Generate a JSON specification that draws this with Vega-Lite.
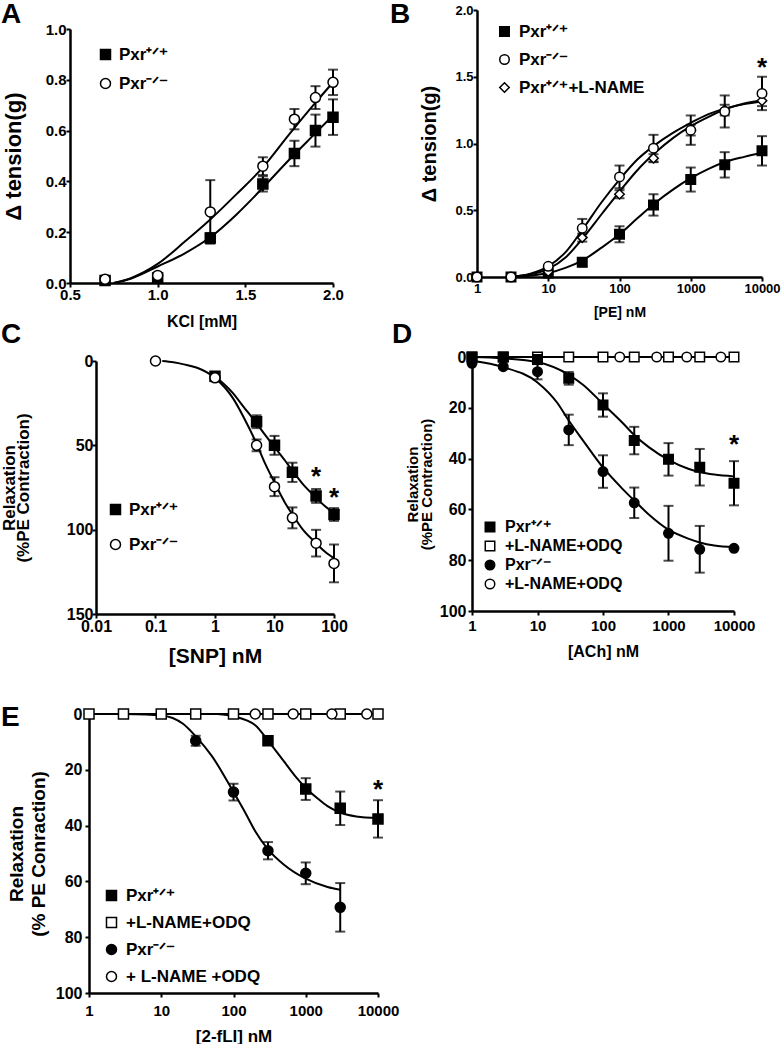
{
"$schema":"https://vega.github.io/schema/vega-lite/v6.json",
"padding":0,
"spacing":-600,
"bounds":"full",
"resolve":{"scale":{"fill":"independent","shape":"independent"},"legend":{"fill":"independent","shape":"independent"}},
"config":{"font":"Liberation Sans","view":{"stroke":null},
"axis":{"domainColor":"black","domainWidth":2.5,"tickColor":"black","tickWidth":2,"tickSize":4,"labelColor":"black","labelFontWeight":"bold","titleColor":"black","titleFontWeight":"bold","grid":false,"labelFlush":false,"labelOverlap":false},
"legend":{"labelFontWeight":"bold","labelColor":"black","padding":0,"symbolOpacity":1},
"title":{"color":"black"}},
"vconcat":[
{"spacing":-600,"resolve":{"scale":{"fill":"independent","shape":"independent"},"legend":{"fill":"independent","shape":"independent"}},"hconcat":[
{"width":70,"height":340,"data":{"values":[]},"mark":"point"},
{"spacing":-600,"resolve":{"scale":{"fill":"independent","shape":"independent"},"legend":{"fill":"independent","shape":"independent"}},"vconcat":[
{"width":407,"height":29,"data":{"values":[]},"mark":"point"},
{
"width":263,"height":254,
"title":{"text":"A","anchor":"start","frame":"group","fontSize":28,"fontWeight":"bold","dx":-69,"offset":-6.5},
"data":{"values":[
{"g":"Pxr\u207A\u141F\u207A","x":0.7,"y":0.01},
{"g":"Pxr\u207A\u141F\u207A","x":1.0,"y":0.02},
{"g":"Pxr\u207A\u141F\u207A","x":1.3,"y":0.177,"e":0.02},
{"g":"Pxr\u207A\u141F\u207A","x":1.6,"y":0.39,"e":0.03},
{"g":"Pxr\u207A\u141F\u207A","x":1.78,"y":0.51,"e":0.05},
{"g":"Pxr\u207A\u141F\u207A","x":1.9,"y":0.6,"e":0.063},
{"g":"Pxr\u207A\u141F\u207A","x":2.0,"y":0.653,"e":0.07},
{"g":"Pxr\u207B\u141F\u207B","x":0.7,"y":0.015},
{"g":"Pxr\u207B\u141F\u207B","x":1.0,"y":0.03},
{"g":"Pxr\u207B\u141F\u207B","x":1.3,"y":0.28,"e":0.125},
{"g":"Pxr\u207B\u141F\u207B","x":1.6,"y":0.46,"e":0.035},
{"g":"Pxr\u207B\u141F\u207B","x":1.78,"y":0.645,"e":0.04},
{"g":"Pxr\u207B\u141F\u207B","x":1.9,"y":0.73,"e":0.045},
{"g":"Pxr\u207B\u141F\u207B","x":2.0,"y":0.79,"e":0.05}
]},
"encoding":{
"x":{"field":"x","type":"quantitative","scale":{"domain":[0.5,2],"nice":false,"zero":false},"axis":{"values":[0.5,1,1.5,2],"format":".1f","title":"KCl [mM]","labelFontSize":15,"titleFontSize":16,"labelPadding":0,"titlePadding":11}},
"y":{"field":"y","type":"quantitative","scale":{"domain":[0,1],"nice":false},"axis":{"values":[0,0.2,0.4,0.6,0.8,1],"format":".1f","title":"\u0394 tension(g)","labelFontSize":15,"titleFontSize":22,"labelPadding":0,"titlePadding":20}}
},
"layer":[
{"data":{"values":[
{"g":"k","x":0.75,"y":0},{"g":"k","x":0.85,"y":0.02},{"g":"k","x":1.0,"y":0.075},{"g":"k","x":1.15,"y":0.16},{"g":"k","x":1.3,"y":0.25},{"g":"k","x":1.45,"y":0.35},{"g":"k","x":1.6,"y":0.455},{"g":"k","x":1.75,"y":0.585},{"g":"k","x":1.9,"y":0.71},{"g":"k","x":2.0,"y":0.79},
{"g":"w","x":0.75,"y":0},{"g":"w","x":0.85,"y":0.018},{"g":"w","x":1.0,"y":0.065},{"g":"w","x":1.15,"y":0.115},{"g":"w","x":1.3,"y":0.18},{"g":"w","x":1.45,"y":0.27},{"g":"w","x":1.6,"y":0.375},{"g":"w","x":1.75,"y":0.485},{"g":"w","x":1.9,"y":0.59},{"g":"w","x":2.0,"y":0.66}
]},"mark":{"type":"line","interpolate":"monotone","color":"black","strokeWidth":2},"encoding":{"detail":{"field":"g"}}},
{"transform":[{"filter":"datum.e != null"}],"mark":{"type":"errorbar","ticks":true,"size":10,"thickness":2,"color":"black"},"encoding":{"yError":{"field":"e"}}},
{"mark":{"type":"point","filled":true,"stroke":"black","strokeWidth":1.5,"size":100,"opacity":1},
"encoding":{
"fill":{"field":"g","type":"nominal","scale":{"domain":["Pxr\u207A\u141F\u207A","Pxr\u207B\u141F\u207B"],"range":["black","white"]},"legend":{"orient":"none","legendX":27,"legendY":17,"title":null,"labelFontSize":17,"symbolSize":100,"rowPadding":11,"labelOffset":5,"encode":{"symbols":{"update":{"stroke":{"value":"black"},"strokeWidth":{"value":1.5}}}}}},
"shape":{"field":"g","type":"nominal","scale":{"domain":["Pxr\u207A\u141F\u207A","Pxr\u207B\u141F\u207B"],"range":["square","circle"]},"legend":{"orient":"none","legendX":27,"legendY":17,"title":null,"labelFontSize":17,"symbolSize":100,"rowPadding":11,"labelOffset":5,"encode":{"symbols":{"update":{"stroke":{"value":"black"},"strokeWidth":{"value":1.5}}}}}}
}}
]
}
]},
{"spacing":-600,"resolve":{"scale":{"fill":"independent","shape":"independent"},"legend":{"fill":"independent","shape":"independent"}},"vconcat":[
{"width":1,"height":10,"data":{"values":[]},"mark":"point"},
{
"width":285,"height":267,
"title":{"text":"B","anchor":"start","frame":"group","fontSize":28,"fontWeight":"bold","dx":-87,"offset":-24.5},
"data":{"values":[
{"g":"Pxr\u207A\u141F\u207A","x":1,"y":0},
{"g":"Pxr\u207A\u141F\u207A","x":3,"y":0},
{"g":"Pxr\u207A\u141F\u207A","x":10,"y":0.03},
{"g":"Pxr\u207A\u141F\u207A","x":30,"y":0.11,"e":0.03},
{"g":"Pxr\u207A\u141F\u207A","x":100,"y":0.32,"e":0.06},
{"g":"Pxr\u207A\u141F\u207A","x":300,"y":0.54,"e":0.08},
{"g":"Pxr\u207A\u141F\u207A","x":1000,"y":0.73,"e":0.09},
{"g":"Pxr\u207A\u141F\u207A","x":3000,"y":0.84,"e":0.095},
{"g":"Pxr\u207A\u141F\u207A","x":10000,"y":0.945,"e":0.11},
{"g":"Pxr\u207A\u141F\u207A+L-NAME","x":10,"y":0.04},
{"g":"Pxr\u207A\u141F\u207A+L-NAME","x":30,"y":0.295,"e":0.03},
{"g":"Pxr\u207A\u141F\u207A+L-NAME","x":100,"y":0.62,"e":0.03},
{"g":"Pxr\u207A\u141F\u207A+L-NAME","x":300,"y":0.89,"e":0.03},
{"g":"Pxr\u207A\u141F\u207A+L-NAME","x":1000,"y":1.1,"e":0.04},
{"g":"Pxr\u207A\u141F\u207A+L-NAME","x":3000,"y":1.25,"e":0.04},
{"g":"Pxr\u207A\u141F\u207A+L-NAME","x":10000,"y":1.32,"e":0.04},
{"g":"Pxr\u207B\u141F\u207B","x":1,"y":0},
{"g":"Pxr\u207B\u141F\u207B","x":3,"y":0},
{"g":"Pxr\u207B\u141F\u207B","x":10,"y":0.08},
{"g":"Pxr\u207B\u141F\u207B","x":30,"y":0.365,"e":0.07},
{"g":"Pxr\u207B\u141F\u207B","x":100,"y":0.75,"e":0.085},
{"g":"Pxr\u207B\u141F\u207B","x":300,"y":0.965,"e":0.1},
{"g":"Pxr\u207B\u141F\u207B","x":1000,"y":1.1,"e":0.11},
{"g":"Pxr\u207B\u141F\u207B","x":3000,"y":1.24,"e":0.12},
{"g":"Pxr\u207B\u141F\u207B","x":10000,"y":1.375,"e":0.125}
]},
"encoding":{
"x":{"field":"x","type":"quantitative","scale":{"type":"log","domain":[1,10000],"nice":false},"axis":{"values":[1,10,100,1000,10000],"format":"d","title":"[PE] nM","labelFontSize":13,"titleFontSize":14,"labelPadding":1,"titlePadding":10}},
"y":{"field":"y","type":"quantitative","scale":{"domain":[0,2],"nice":false},"axis":{"values":[0,0.5,1,1.5,2],"format":".1f","title":"\u0394 tension(g)","labelFontSize":13,"titleFontSize":20,"labelPadding":0,"titlePadding":15}}
},
"layer":[
{"data":{"values":[
{"g":"k","x":3,"y":0},{"g":"k","x":5.6,"y":0.025},{"g":"k","x":10,"y":0.08},{"g":"k","x":17.8,"y":0.19},{"g":"k","x":31.6,"y":0.37},{"g":"k","x":56,"y":0.56},{"g":"k","x":100,"y":0.73},{"g":"k","x":178,"y":0.88},{"g":"k","x":316,"y":0.99},{"g":"k","x":562,"y":1.08},{"g":"k","x":1000,"y":1.155},{"g":"k","x":1778,"y":1.22},{"g":"k","x":3162,"y":1.265},{"g":"k","x":5623,"y":1.295},{"g":"k","x":10000,"y":1.315},
{"g":"l","x":3,"y":0},{"g":"l","x":5.6,"y":0.02},{"g":"l","x":10,"y":0.06},{"g":"l","x":17.8,"y":0.15},{"g":"l","x":31.6,"y":0.3},{"g":"l","x":56,"y":0.47},{"g":"l","x":100,"y":0.64},{"g":"l","x":178,"y":0.8},{"g":"l","x":316,"y":0.93},{"g":"l","x":562,"y":1.04},{"g":"l","x":1000,"y":1.13},{"g":"l","x":1778,"y":1.2},{"g":"l","x":3162,"y":1.26},{"g":"l","x":5623,"y":1.3},{"g":"l","x":10000,"y":1.325},
{"g":"w","x":3,"y":0},{"g":"w","x":5.6,"y":0.01},{"g":"w","x":10,"y":0.03},{"g":"w","x":17.8,"y":0.07},{"g":"w","x":31.6,"y":0.13},{"g":"w","x":56,"y":0.22},{"g":"w","x":100,"y":0.32},{"g":"w","x":178,"y":0.44},{"g":"w","x":316,"y":0.555},{"g":"w","x":562,"y":0.655},{"g":"w","x":1000,"y":0.74},{"g":"w","x":1778,"y":0.81},{"g":"w","x":3162,"y":0.865},{"g":"w","x":5623,"y":0.9},{"g":"w","x":10000,"y":0.93}
]},"mark":{"type":"line","interpolate":"monotone","color":"black","strokeWidth":2},"encoding":{"detail":{"field":"g"}}},
{"transform":[{"filter":"datum.e != null"}],"mark":{"type":"errorbar","ticks":true,"size":10,"thickness":2,"color":"black"},"encoding":{"yError":{"field":"e"}}},
{"mark":{"type":"point","filled":true,"stroke":"black","strokeWidth":1.5,"size":90,"opacity":1},
"encoding":{
"fill":{"field":"g","type":"nominal","scale":{"domain":["Pxr\u207A\u141F\u207A","Pxr\u207B\u141F\u207B","Pxr\u207A\u141F\u207A+L-NAME"],"range":["black","white","white"]},"legend":{"orient":"none","legendX":19,"legendY":13,"title":null,"labelFontSize":17,"symbolSize":90,"rowPadding":10,"labelOffset":6,"encode":{"symbols":{"update":{"stroke":{"value":"black"},"strokeWidth":{"value":1.5}}}}}},
"shape":{"field":"g","type":"nominal","scale":{"domain":["Pxr\u207A\u141F\u207A","Pxr\u207B\u141F\u207B","Pxr\u207A\u141F\u207A+L-NAME"],"range":["square","circle","diamond"]},"legend":{"orient":"none","legendX":19,"legendY":13,"title":null,"labelFontSize":17,"symbolSize":90,"rowPadding":10,"labelOffset":6,"encode":{"symbols":{"update":{"stroke":{"value":"black"},"strokeWidth":{"value":1.5}}}}}}
}},
{"data":{"values":[{"x":10000,"y":1.6,"t":"*"}]},"mark":{"type":"text","fontSize":26,"fontWeight":"bold","baseline":"alphabetic","dy":13,"color":"black"},"encoding":{"text":{"field":"t"}}}
]
}
]}
]},
{"spacing":-600,"resolve":{"scale":{"fill":"independent","shape":"independent"},"legend":{"fill":"independent","shape":"independent"}},"hconcat":[
{"width":96,"height":350,"data":{"values":[]},"mark":"point"},
{"spacing":-600,"resolve":{"scale":{"fill":"independent","shape":"independent"},"legend":{"fill":"independent","shape":"independent"}},"vconcat":[
{"width":376,"height":21,"data":{"values":[]},"mark":"point"},
{
"width":238,"height":253,
"title":{"text":"C","anchor":"start","frame":"group","fontSize":28,"fontWeight":"bold","dx":-95,"offset":4},
"data":{"values":[
{"g":"Pxr\u207A\u141F\u207A","x":1,"y":9,"e":2},
{"g":"Pxr\u207A\u141F\u207A","x":5,"y":36,"e":3.8},
{"g":"Pxr\u207A\u141F\u207A","x":10,"y":50,"e":5.6},
{"g":"Pxr\u207A\u141F\u207A","x":20,"y":66,"e":5.7},
{"g":"Pxr\u207A\u141F\u207A","x":50,"y":80,"e":4.1},
{"g":"Pxr\u207A\u141F\u207A","x":100,"y":91,"e":3.8},
{"g":"Pxr\u207B\u141F\u207B","x":0.1,"y":0},
{"g":"Pxr\u207B\u141F\u207B","x":1,"y":10,"e":2},
{"g":"Pxr\u207B\u141F\u207B","x":5,"y":50,"e":3.5},
{"g":"Pxr\u207B\u141F\u207B","x":10,"y":74.5,"e":5.6},
{"g":"Pxr\u207B\u141F\u207B","x":20,"y":93,"e":6.2},
{"g":"Pxr\u207B\u141F\u207B","x":50,"y":108,"e":7.9},
{"g":"Pxr\u207B\u141F\u207B","x":100,"y":120,"e":11.2}
]},
"encoding":{
"x":{"field":"x","type":"quantitative","scale":{"type":"log","domain":[0.01,100],"nice":false},"axis":{"values":[0.01,0.1,1,10,100],"format":"~g","title":"[SNP] nM","labelFontSize":16,"titleFontSize":21,"labelPadding":0,"titlePadding":11}},
"y":{"field":"y","type":"quantitative","scale":{"domain":[0,150],"nice":false,"reverse":true},"axis":{"values":[0,50,100,150],"title":["Relaxation","(%PE Contraction)"],"titleLineHeight":14,"labelFontSize":16,"titleFontSize":17,"labelPadding":-1,"titlePadding":34}}
},
"layer":[
{"data":{"values":[
{"g":"k","x":0.13,"y":0},{"g":"k","x":0.2,"y":0.8},{"g":"k","x":0.3,"y":2},{"g":"k","x":0.5,"y":4},{"g":"k","x":1,"y":10},{"g":"k","x":2,"y":22},{"g":"k","x":3,"y":33},{"g":"k","x":5,"y":49},{"g":"k","x":7,"y":61},{"g":"k","x":10,"y":72},{"g":"k","x":15,"y":84},{"g":"k","x":20,"y":91},{"g":"k","x":30,"y":100},{"g":"k","x":50,"y":108},{"g":"k","x":70,"y":113},{"g":"k","x":100,"y":117},
{"g":"w","x":1,"y":9},{"g":"w","x":2,"y":19},{"g":"w","x":3,"y":27},{"g":"w","x":5,"y":37},{"g":"w","x":7,"y":44},{"g":"w","x":10,"y":51},{"g":"w","x":15,"y":59},{"g":"w","x":20,"y":65},{"g":"w","x":30,"y":73},{"g":"w","x":50,"y":81},{"g":"w","x":70,"y":86},{"g":"w","x":100,"y":90}
]},"mark":{"type":"line","interpolate":"monotone","color":"black","strokeWidth":2},"encoding":{"detail":{"field":"g"}}},
{"transform":[{"filter":"datum.e != null"}],"mark":{"type":"errorbar","ticks":true,"size":10,"thickness":2,"color":"black"},"encoding":{"yError":{"field":"e"}}},
{"mark":{"type":"point","filled":true,"stroke":"black","strokeWidth":1.5,"size":100,"opacity":1},
"encoding":{
"fill":{"field":"g","type":"nominal","scale":{"domain":["Pxr\u207A\u141F\u207A","Pxr\u207B\u141F\u207B"],"range":["black","white"]},"legend":{"orient":"none","legendX":11,"legendY":140,"title":null,"labelFontSize":17,"symbolSize":100,"rowPadding":17,"labelOffset":5,"encode":{"symbols":{"update":{"stroke":{"value":"black"},"strokeWidth":{"value":1.5}}}}}},
"shape":{"field":"g","type":"nominal","scale":{"domain":["Pxr\u207A\u141F\u207A","Pxr\u207B\u141F\u207B"],"range":["square","circle"]},"legend":{"orient":"none","legendX":11,"legendY":140,"title":null,"labelFontSize":17,"symbolSize":100,"rowPadding":17,"labelOffset":5,"encode":{"symbols":{"update":{"stroke":{"value":"black"},"strokeWidth":{"value":1.5}}}}}}
}},
{"data":{"values":[{"x":50,"y":65.6,"t":"*"},{"x":100,"y":78,"t":"*"}]},"mark":{"type":"text","fontSize":26,"fontWeight":"bold","baseline":"alphabetic","dy":13,"color":"black"},"encoding":{"text":{"field":"t"}}}
]
}
]},
{"spacing":-600,"resolve":{"scale":{"fill":"independent","shape":"independent"},"legend":{"fill":"independent","shape":"independent"}},"vconcat":[
{"width":1,"height":17,"data":{"values":[]},"mark":"point"},
{
"width":262,"height":254,
"title":{"text":"D","anchor":"start","frame":"group","fontSize":28,"fontWeight":"bold","dx":-80,"offset":0},
"data":{"values":[
{"g":"+L-NAME+ODQ","x":1,"y":0},{"g":"+L-NAME+ODQ","x":3,"y":0},{"g":"+L-NAME+ODQ","x":10,"y":0},{"g":"+L-NAME+ODQ","x":30,"y":0},{"g":"+L-NAME+ODQ","x":100,"y":0},{"g":"+L-NAME+ODQ","x":300,"y":0},{"g":"+L-NAME+ODQ","x":1000,"y":0},{"g":"+L-NAME+ODQ","x":3000,"y":0},{"g":"+L-NAME+ODQ","x":10000,"y":0},
{"g":"+L-NAME+ODQ ","x":180,"y":0},{"g":"+L-NAME+ODQ ","x":660,"y":0},{"g":"+L-NAME+ODQ ","x":1900,"y":0},{"g":"+L-NAME+ODQ ","x":6300,"y":0},
{"g":"Pxr\u207B\u141F\u207B","x":1,"y":2.5},
{"g":"Pxr\u207B\u141F\u207B","x":3,"y":3.8},
{"g":"Pxr\u207B\u141F\u207B","x":10,"y":5.8,"e":3},
{"g":"Pxr\u207B\u141F\u207B","x":30,"y":28.7,"e":6},
{"g":"Pxr\u207B\u141F\u207B","x":100,"y":45.1,"e":6.4},
{"g":"Pxr\u207B\u141F\u207B","x":300,"y":57.4,"e":6},
{"g":"Pxr\u207B\u141F\u207B","x":1000,"y":69.4,"e":10.8},
{"g":"Pxr\u207B\u141F\u207B","x":3000,"y":75.7,"e":9.2},
{"g":"Pxr\u207B\u141F\u207B","x":10000,"y":75.3},
{"g":"Pxr\u207A\u141F\u207A","x":1,"y":0},
{"g":"Pxr\u207A\u141F\u207A","x":3,"y":0},
{"g":"Pxr\u207A\u141F\u207A","x":10,"y":1},
{"g":"Pxr\u207A\u141F\u207A","x":30,"y":8.4,"e":2.5},
{"g":"Pxr\u207A\u141F\u207A","x":100,"y":18.9,"e":4.6},
{"g":"Pxr\u207A\u141F\u207A","x":300,"y":32.9,"e":5.4},
{"g":"Pxr\u207A\u141F\u207A","x":1000,"y":40.3,"e":6.4},
{"g":"Pxr\u207A\u141F\u207A","x":3000,"y":43.4,"e":7.2},
{"g":"Pxr\u207A\u141F\u207A","x":10000,"y":49.7,"e":8.7}
]},
"encoding":{
"x":{"field":"x","type":"quantitative","scale":{"type":"log","domain":[1,10000],"nice":false},"axis":{"values":[1,10,100,1000,10000],"format":"d","title":"[ACh] nM","labelFontSize":15,"titleFontSize":16,"labelPadding":3,"titlePadding":10}},
"y":{"field":"y","type":"quantitative","scale":{"domain":[0,100],"nice":false,"reverse":true},"axis":{"values":[0,20,40,60,80,100],"title":["Relaxation","(%PE  Contraction)"],"titleLineHeight":14,"labelFontSize":16,"titleFontSize":15,"labelPadding":2,"titlePadding":5}}
},
"layer":[
{"data":{"values":[
{"g":"n","x":1,"y":0},{"g":"n","x":10000,"y":0},
{"g":"w","x":1,"y":0},{"g":"w","x":3,"y":0.5},{"g":"w","x":10,"y":2},{"g":"w","x":30,"y":7},{"g":"w","x":50,"y":11},{"g":"w","x":100,"y":18.5},{"g":"w","x":200,"y":26},{"g":"w","x":300,"y":30.7},{"g":"w","x":500,"y":35.5},{"g":"w","x":1000,"y":40.5},{"g":"w","x":2000,"y":44},{"g":"w","x":3000,"y":45.3},{"g":"w","x":5000,"y":46.3},{"g":"w","x":10000,"y":47},
{"g":"k","x":1,"y":1.5},{"g":"k","x":3,"y":4},{"g":"k","x":10,"y":10},{"g":"k","x":20,"y":18},{"g":"k","x":30,"y":25},{"g":"k","x":50,"y":33},{"g":"k","x":100,"y":43.5},{"g":"k","x":200,"y":52},{"g":"k","x":300,"y":56.5},{"g":"k","x":500,"y":62},{"g":"k","x":1000,"y":68},{"g":"k","x":2000,"y":71.5},{"g":"k","x":3000,"y":73},{"g":"k","x":5000,"y":74.2},{"g":"k","x":10000,"y":74.8}
]},"mark":{"type":"line","interpolate":"monotone","color":"black","strokeWidth":2},"encoding":{"detail":{"field":"g"}}},
{"transform":[{"filter":"datum.e != null"}],"mark":{"type":"errorbar","ticks":true,"size":10,"thickness":2,"color":"black"},"encoding":{"yError":{"field":"e"}}},
{"mark":{"type":"point","filled":true,"stroke":"black","strokeWidth":1.5,"size":90,"opacity":1},
"encoding":{
"fill":{"field":"g","type":"nominal","scale":{"domain":["Pxr\u207A\u141F\u207A","+L-NAME+ODQ","Pxr\u207B\u141F\u207B","+L-NAME+ODQ "],"range":["black","white","black","white"]},"legend":{"orient":"none","legendX":10,"legendY":162,"title":null,"labelFontSize":16,"symbolSize":90,"rowPadding":3,"labelOffset":7,"encode":{"symbols":{"update":{"stroke":{"value":"black"},"strokeWidth":{"value":1.5}}}}}},
"shape":{"field":"g","type":"nominal","scale":{"domain":["Pxr\u207A\u141F\u207A","+L-NAME+ODQ","Pxr\u207B\u141F\u207B","+L-NAME+ODQ "],"range":["square","square","circle","circle"]},"legend":{"orient":"none","legendX":10,"legendY":162,"title":null,"labelFontSize":16,"symbolSize":90,"rowPadding":3,"labelOffset":7,"encode":{"symbols":{"update":{"stroke":{"value":"black"},"strokeWidth":{"value":1.5}}}}}}
}},
{"data":{"values":[{"x":10000,"y":32.7,"t":"*"}]},"mark":{"type":"text","fontSize":26,"fontWeight":"bold","baseline":"alphabetic","dy":13,"color":"black"},"encoding":{"text":{"field":"t"}}}
]
}
]}
]},
{"spacing":-600,"resolve":{"scale":{"fill":"independent","shape":"independent"},"legend":{"fill":"independent","shape":"independent"}},"hconcat":[
{"width":89,"height":1,"data":{"values":[]},"mark":"point"},
{"spacing":-600,"resolve":{"scale":{"fill":"independent","shape":"independent"},"legend":{"fill":"independent","shape":"independent"}},"vconcat":[
{"width":1,"height":24,"data":{"values":[]},"mark":"point"},
{
"width":289,"height":279,
"title":{"text":"E","anchor":"start","frame":"group","fontSize":28,"fontWeight":"bold","dx":-88,"offset":-26},
"data":{"values":[
{"g":"Pxr\u207A\u141F\u207A","x":300,"y":9.6},
{"g":"Pxr\u207A\u141F\u207A","x":1000,"y":26.9,"e":3.9},
{"g":"Pxr\u207A\u141F\u207A","x":3000,"y":33.8,"e":6},
{"g":"Pxr\u207A\u141F\u207A","x":10000,"y":37.6,"e":6.7},
{"g":"Pxr\u207B\u141F\u207B","x":30,"y":9.6,"e":1.8},
{"g":"Pxr\u207B\u141F\u207B","x":100,"y":28,"e":3},
{"g":"Pxr\u207B\u141F\u207B","x":300,"y":49,"e":3.1},
{"g":"Pxr\u207B\u141F\u207B","x":1000,"y":57.1,"e":3.9},
{"g":"Pxr\u207B\u141F\u207B","x":3000,"y":69.3,"e":8.7},
{"g":"+L-NAME+ODQ","x":1,"y":0},{"g":"+L-NAME+ODQ","x":3,"y":0},{"g":"+L-NAME+ODQ","x":10,"y":0},{"g":"+L-NAME+ODQ","x":30,"y":0},{"g":"+L-NAME+ODQ","x":100,"y":0},{"g":"+L-NAME+ODQ","x":300,"y":0},{"g":"+L-NAME+ODQ","x":1000,"y":0},{"g":"+L-NAME+ODQ","x":3000,"y":0},{"g":"+L-NAME+ODQ","x":10000,"y":0},
{"g":"+ L-NAME +ODQ","x":200,"y":0},{"g":"+ L-NAME +ODQ","x":670,"y":0},{"g":"+ L-NAME +ODQ","x":2300,"y":0},{"g":"+ L-NAME +ODQ","x":7000,"y":0}
]},
"encoding":{
"x":{"field":"x","type":"quantitative","scale":{"type":"log","domain":[1,10000],"nice":false},"axis":{"values":[1,10,100,1000,10000],"format":"d","title":"[2-fLI] nM","labelFontSize":15,"titleFontSize":17,"labelPadding":6,"titlePadding":10}},
"y":{"field":"y","type":"quantitative","scale":{"domain":[0,100],"nice":false,"reverse":true},"axis":{"values":[0,20,40,60,80,100],"title":["Relaxation","(% PE Conraction)"],"titleLineHeight":22,"labelFontSize":16,"titleFontSize":19,"labelPadding":3,"titlePadding":7}}
},
"layer":[
{"data":{"values":[
{"g":"n","x":1,"y":0},{"g":"n","x":10000,"y":0},
{"g":"k","x":3,"y":0},{"g":"k","x":10,"y":0.5},{"g":"k","x":20,"y":3.5},{"g":"k","x":30,"y":8},{"g":"k","x":50,"y":15},{"g":"k","x":100,"y":28},{"g":"k","x":150,"y":36},{"g":"k","x":200,"y":42},{"g":"k","x":300,"y":48.5},{"g":"k","x":500,"y":54},{"g":"k","x":1000,"y":59},{"g":"k","x":2000,"y":62},{"g":"k","x":3000,"y":63},
{"g":"w","x":60,"y":0},{"g":"w","x":100,"y":0.8},{"g":"w","x":200,"y":4},{"g":"w","x":300,"y":9.5},{"g":"w","x":500,"y":17},{"g":"w","x":700,"y":22},{"g":"w","x":1000,"y":26.5},{"g":"w","x":1500,"y":30.5},{"g":"w","x":2000,"y":33},{"g":"w","x":3000,"y":35.3},{"g":"w","x":5000,"y":36.7},{"g":"w","x":10000,"y":37.3}
]},"mark":{"type":"line","interpolate":"monotone","color":"black","strokeWidth":2},"encoding":{"detail":{"field":"g"}}},
{"transform":[{"filter":"datum.e != null"}],"mark":{"type":"errorbar","ticks":true,"size":10,"thickness":2,"color":"black"},"encoding":{"yError":{"field":"e"}}},
{"mark":{"type":"point","filled":true,"stroke":"black","strokeWidth":1.5,"size":100,"opacity":1},
"encoding":{
"fill":{"field":"g","type":"nominal","scale":{"domain":["Pxr\u207A\u141F\u207A","+L-NAME+ODQ","Pxr\u207B\u141F\u207B","+ L-NAME +ODQ"],"range":["black","white","black","white"]},"legend":{"orient":"none","legendX":14,"legendY":173,"title":null,"labelFontSize":17,"symbolSize":100,"rowPadding":9,"labelOffset":6,"encode":{"symbols":{"update":{"stroke":{"value":"black"},"strokeWidth":{"value":1.5}}}}}},
"shape":{"field":"g","type":"nominal","scale":{"domain":["Pxr\u207A\u141F\u207A","+L-NAME+ODQ","Pxr\u207B\u141F\u207B","+ L-NAME +ODQ"],"range":["square","square","circle","circle"]},"legend":{"orient":"none","legendX":14,"legendY":173,"title":null,"labelFontSize":17,"symbolSize":100,"rowPadding":9,"labelOffset":6,"encode":{"symbols":{"update":{"stroke":{"value":"black"},"strokeWidth":{"value":1.5}}}}}}
}},
{"data":{"values":[{"x":10000,"y":25.4,"t":"*"}]},"mark":{"type":"text","fontSize":26,"fontWeight":"bold","baseline":"alphabetic","dy":13,"color":"black"},"encoding":{"text":{"field":"t"}}}
]
}
]}
]}
]
}
